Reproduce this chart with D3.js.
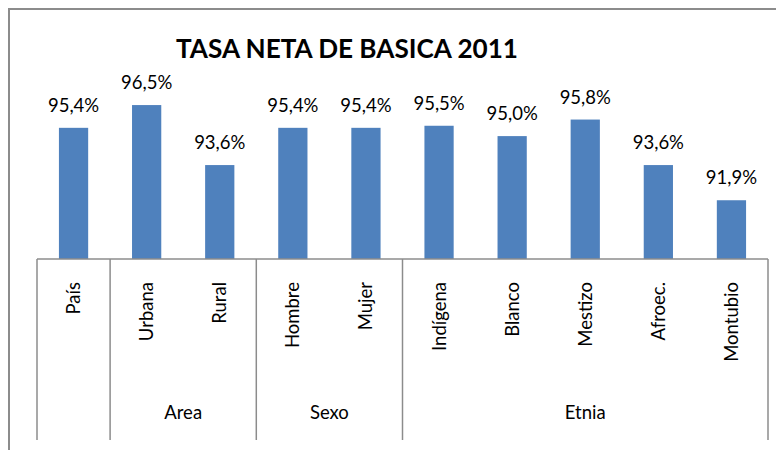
<!DOCTYPE html>
<html>
<head>
<meta charset="utf-8">
<script src="https://cdn.jsdelivr.net/npm/d3@7"></script>
<style>
  html, body { margin: 0; padding: 0; background: #fff; }
  svg { display: block; }
  text { font-family: Lato, "Noto Sans", sans-serif; fill: #000; }
</style>
</head>
<body>
<svg id="chart" width="776" height="450"></svg>
<script>
const title = "TASA NETA DE BASICA 2011";
const categories = ["País", "Urbana", "Rural", "Hombre", "Mujer", "Indígena", "Blanco", "Mestizo", "Afroec.", "Montubio"];
const values = [95.4, 96.5, 93.6, 95.4, 95.4, 95.5, 95.0, 95.8, 93.6, 91.9];
const groupNames = ["", "Area", "Sexo", "Etnia"];
const groupSizes = [1, 2, 2, 5];
const yDomain = [89.06, 97];

const svg = d3.select("#chart");
const W = 776, H = 450;
const plot = { left: 37, right: 768, top: 95, bottom: 259 };

// frame
svg.append("path")
  .attr("d", `M9,${H} L9,9 L${W + 5},9`)
  .attr("fill", "none").attr("stroke", "#8c8c8c").attr("stroke-width", 2);

// title
const t = svg.append("text")
  .attr("x", 176).attr("y", 57.5)
  .attr("font-size", 26).attr("font-weight", "bold")
  .text(title);
t.attr("textLength", 342).attr("lengthAdjust", "spacingAndGlyphs");

const x = d3.scaleBand()
  .domain(categories)
  .range([plot.left, plot.right])
  .paddingInner(0.6)
  .paddingOuter(0.3);

const y = d3.scaleLinear().domain(yDomain).range([plot.bottom, plot.bottom - (yDomain[1] - yDomain[0]) * 20.69]);

const data = categories.map((c, i) => ({ c, v: values[i] }));

svg.append("g").selectAll("rect").data(data).join("rect")
  .attr("x", d => x(d.c))
  .attr("width", x.bandwidth())
  .attr("y", d => y(d.v))
  .attr("height", d => plot.bottom - y(d.v))
  .attr("fill", "#4F81BD");

svg.append("g").selectAll("text").data(data).join("text")
  .attr("x", d => x(d.c) + x.bandwidth() / 2)
  .attr("y", d => y(d.v) - 16)
  .attr("text-anchor", "middle")
  .attr("font-size", 18.5)
  .text(d => d.v.toFixed(1).replace(".", ",") + "%");

// baseline axis
svg.append("line")
  .attr("x1", plot.left).attr("x2", plot.right)
  .attr("y1", plot.bottom).attr("y2", plot.bottom)
  .attr("stroke", "#8c8c8c").attr("stroke-width", 1.5);

// category labels (rotated)
svg.append("g").selectAll("text").data(categories).join("text")
  .attr("transform", d => `translate(${x(d) + x.bandwidth() / 2 + 6.5},282) rotate(-90)`)
  .attr("text-anchor", "end")
  .attr("font-size", 18.5)
  .text(d => d);

// group separators & labels
const step = x.step();
let idx = 0;
const bounds = [0];
groupSizes.forEach(s => { idx += s; bounds.push(idx); });
svg.append("g").selectAll("line").data(bounds).join("line")
  .attr("x1", b => plot.left + b * step).attr("x2", b => plot.left + b * step)
  .attr("y1", plot.bottom).attr("y2", 440)
  .attr("stroke", "#8c8c8c").attr("stroke-width", 1.5);

svg.append("g").selectAll("text").data(groupNames).join("text")
  .attr("x", (g, i) => plot.left + (bounds[i] + bounds[i + 1]) / 2 * step)
  .attr("y", 419)
  .attr("text-anchor", "middle")
  .attr("font-size", 18.5)
  .text(d => d);
</script>
</body>
</html>
